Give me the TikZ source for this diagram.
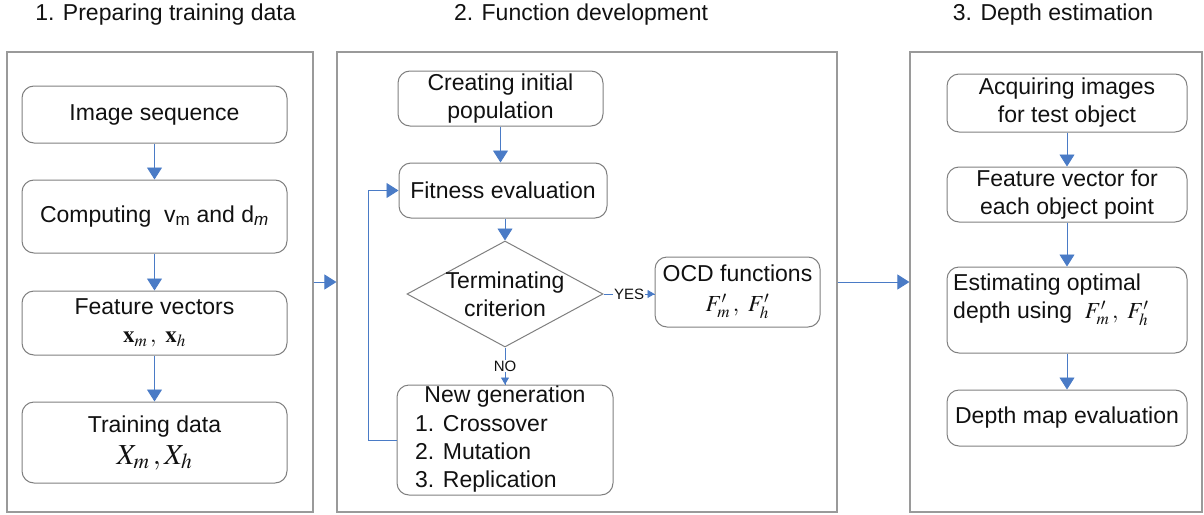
\documentclass[tikz,border=0pt]{standalone}
\usepackage{mathptmx}
\usepackage{fontspec}
\setmainfont{Liberation Sans}
\usetikzlibrary{arrows.meta,shapes.geometric}

\definecolor{flow}{HTML}{4A7BC6}
\definecolor{boxline}{HTML}{7F7F7F}
\definecolor{panelline}{HTML}{9A9A9A}
\definecolor{ink}{HTML}{111111}

\newcommand\mainsize{\fontsize{23}{28}\selectfont}
\newcommand\bigmath{\fontsize{29}{30}\selectfont}
\newcommand\tagsize{\fontsize{15}{18}\selectfont}

\tikzset{
  panel/.style={draw=panelline, line width=1.2pt, inner sep=0pt},
  stage/.style={draw=boxline, line width=1pt, rounded corners=12pt, inner sep=0pt,
    align=center, font=\mainsize, text=ink},
  decision/.style={draw=boxline, line width=1pt, diamond, inner sep=0pt},
  lbl/.style={inner sep=0pt, font=\mainsize, text=ink},
  tag/.style={inner sep=1pt, fill=white, font=\tagsize, text=ink},
  flowarrow/.style={draw=flow, line width=0.9pt, -{Triangle[width=15pt,length=12pt]}},
  smallarrow/.style={draw=flow, line width=0.9pt, -{Triangle[width=8pt,length=7pt]}},
  flowline/.style={draw=flow, line width=0.9pt},
}

\begin{document}
\begin{tikzpicture}[x=1pt,y=-1pt]
\useasboundingbox (0,0) rectangle (1204,514);

% section titles
\node[lbl] (t1) at (165.5,15) {1. Preparing training data};
\node[lbl] (t2) at (581,15) {2. Function development};
\node[lbl] (t3) at (1053,15) {3. Depth estimation};

% panels
\node[panel, minimum width=306pt, minimum height=460pt] (p1) at (160,282) {};
\node[panel, minimum width=500pt, minimum height=460pt] (p2) at (587,282) {};
\node[panel, minimum width=292pt, minimum height=460pt] (p3) at (1056,282) {};

% panel 1: training data
\node[stage, minimum width=265pt, minimum height=57pt] (img) at (154.5,114.5) {Image sequence};
\node[stage, minimum width=265pt, minimum height=73pt] (comp) at (154.5,216.5)
  {Computing\ \ v\textsubscript{m} and d\textsubscript{\textit{m}}};
\node[stage, minimum width=265pt, minimum height=64pt] (feat) at (154.5,323)
  {Feature vectors\\ $\mathbf{x}_m\,,\ \mathbf{x}_h$};
\node[stage, minimum width=265pt, minimum height=81pt] (train) at (154.5,442.5)
  {Training data\\[4pt] {\bigmath$X_m\,, X_h$}};

\draw[flowarrow] (img) -- (comp);
\draw[flowarrow] (comp) -- (feat);
\draw[flowarrow] (feat) -- (train);

% panel 2: function development
\node[stage, minimum width=205pt, minimum height=55pt] (init) at (500.5,98.5)
  {Creating initial\\ population};
\node[stage, minimum width=208pt, minimum height=55pt] (fit) at (503,190.5) {Fitness evaluation};
\node[decision, minimum width=196pt, minimum height=106pt] (dia) at (505,294) {};
\node[lbl, align=center] (diat) at (505,294) {Terminating\\ criterion};
\node[stage, minimum width=165pt, minimum height=70pt] (ocd) at (737.5,292)
  {OCD functions\\[2pt] $F'_m\,,\ F'_h$};
\node[stage, minimum width=216pt, minimum height=110pt] (ng) at (505,440) {};
\node[lbl] (ngt) at (505,397) {New generation};
\node[lbl, anchor=west, align=left] (ngl) at (415,453.5) {1. Crossover\\ 2. Mutation\\ 3. Replication};

\draw[flowarrow] (init.south) -- (init.south |- fit.north);
\draw[flowarrow] (dia.north |- fit.south) -- (dia.north);
\draw[flowline] (dia.east) -- node[tag] (yes) {YES} (dia.east -| ocd.west);
\draw[smallarrow] (yes.east) -- (dia.east -| ocd.west);
\draw[flowline] (dia.south) -- node[tag] (no) {NO} (ng.north);
\draw[smallarrow] (no.south) -- (ng.north);
\draw[flowarrow] (ng.west) -- ++(-28,0) |- (fit.west);

% panel 3: depth estimation
\node[stage, minimum width=240pt, minimum height=58pt] (acq) at (1067,103)
  {Acquiring images\\ for test object};
\node[stage, minimum width=240pt, minimum height=55pt] (fv) at (1067,194.5)
  {Feature vector for\\ each object point};
\node[stage, minimum width=240pt, minimum height=86pt] (est) at (1067,310) {};
\node[lbl, anchor=west, align=left] (estt) at (953,300)
  {Estimating optimal\\ depth using\ \ $F'_m\,,\ F'_h$};
\node[stage, minimum width=240pt, minimum height=56pt] (dm) at (1067,418) {Depth map evaluation};

\draw[flowarrow] (acq) -- (fv);
\draw[flowarrow] (fv) -- (est);
\draw[flowarrow] (est) -- (dm);

% links between stages
\draw[flowarrow] (p1.east) -- (p2.west);
\draw[flowarrow] (p2.east) -- (p3.west);
\end{tikzpicture}
\end{document}
